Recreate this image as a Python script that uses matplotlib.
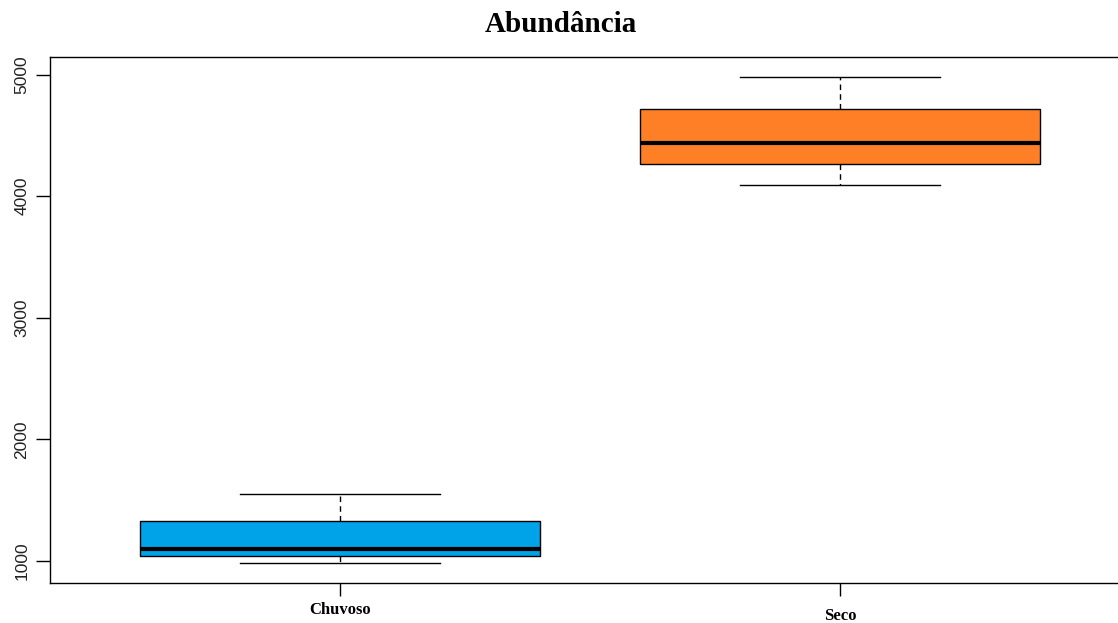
import matplotlib.pyplot as plt
import matplotlib.transforms as mtransforms

# Abundance per season (box statistics)
seasons = ["Chuvoso", "Seco"]
whisker_low = [981, 4092]
q1 = [1044, 4268]
median = [1096, 4435]
q3 = [1331, 4717]
whisker_high = [1553, 4983]
colors = ["#00A2E8", "#FF7F27"]

stats = [
    dict(label=s, whislo=lo, q1=a, med=m, q3=b, whishi=hi, fliers=[])
    for s, lo, a, m, b, hi in zip(seasons, whisker_low, q1, median, q3, whisker_high)
]

fig = plt.figure(figsize=(11.18, 6.23), dpi=100)
ax = fig.add_axes([50 / 1118, 40.3 / 623, 1080 / 1118, 525.4 / 623])

bp = ax.bxp(stats, positions=[1, 2], widths=0.8, capwidths=0.4,
            patch_artist=True, showfliers=False,
            boxprops=dict(edgecolor="black", linewidth=1.0),
            medianprops=dict(color="black", linewidth=3.0, solid_capstyle="butt"),
            whiskerprops=dict(color="black", linewidth=1.0, linestyle=(0, (4, 3))),
            capprops=dict(color="black", linewidth=1.0))
for patch, c in zip(bp["boxes"], colors):
    patch.set_facecolor(c)

ax.set_xlim(0.42, 2.58)
ax.set_ylim(821, 5143)
ax.set_yticks([1000, 2000, 3000, 4000, 5000])
ax.set_xticks([1, 2])
ax.set_xticklabels([])
ax.tick_params(axis="y", length=10, width=1, pad=5, labelsize=12.5, labelcolor="#222222")
ax.tick_params(axis="x", length=9, width=1)
for lab in ax.get_yticklabels():
    lab.set_rotation(90)
    lab.set_va("center")
    lab.set_family("Liberation Sans")
for sp in ax.spines.values():
    sp.set_linewidth(1.0)

# category labels sit at slightly different heights
label_y = [610, 616]
trans = mtransforms.blended_transform_factory(ax.transData, fig.transFigure)
for pos, s, yy in zip([1, 2], seasons, label_y):
    ax.text(pos, 1 - yy / 623, s, transform=trans, ha="center", va="center",
            family="Liberation Serif", weight="bold", fontsize=12)

fig.text(561 / 1118, 1 - 24 / 623, "Abundância", ha="center", va="center",
         family="Liberation Serif", weight="bold", fontsize=21)

fig.savefig("out.png", dpi=100)
